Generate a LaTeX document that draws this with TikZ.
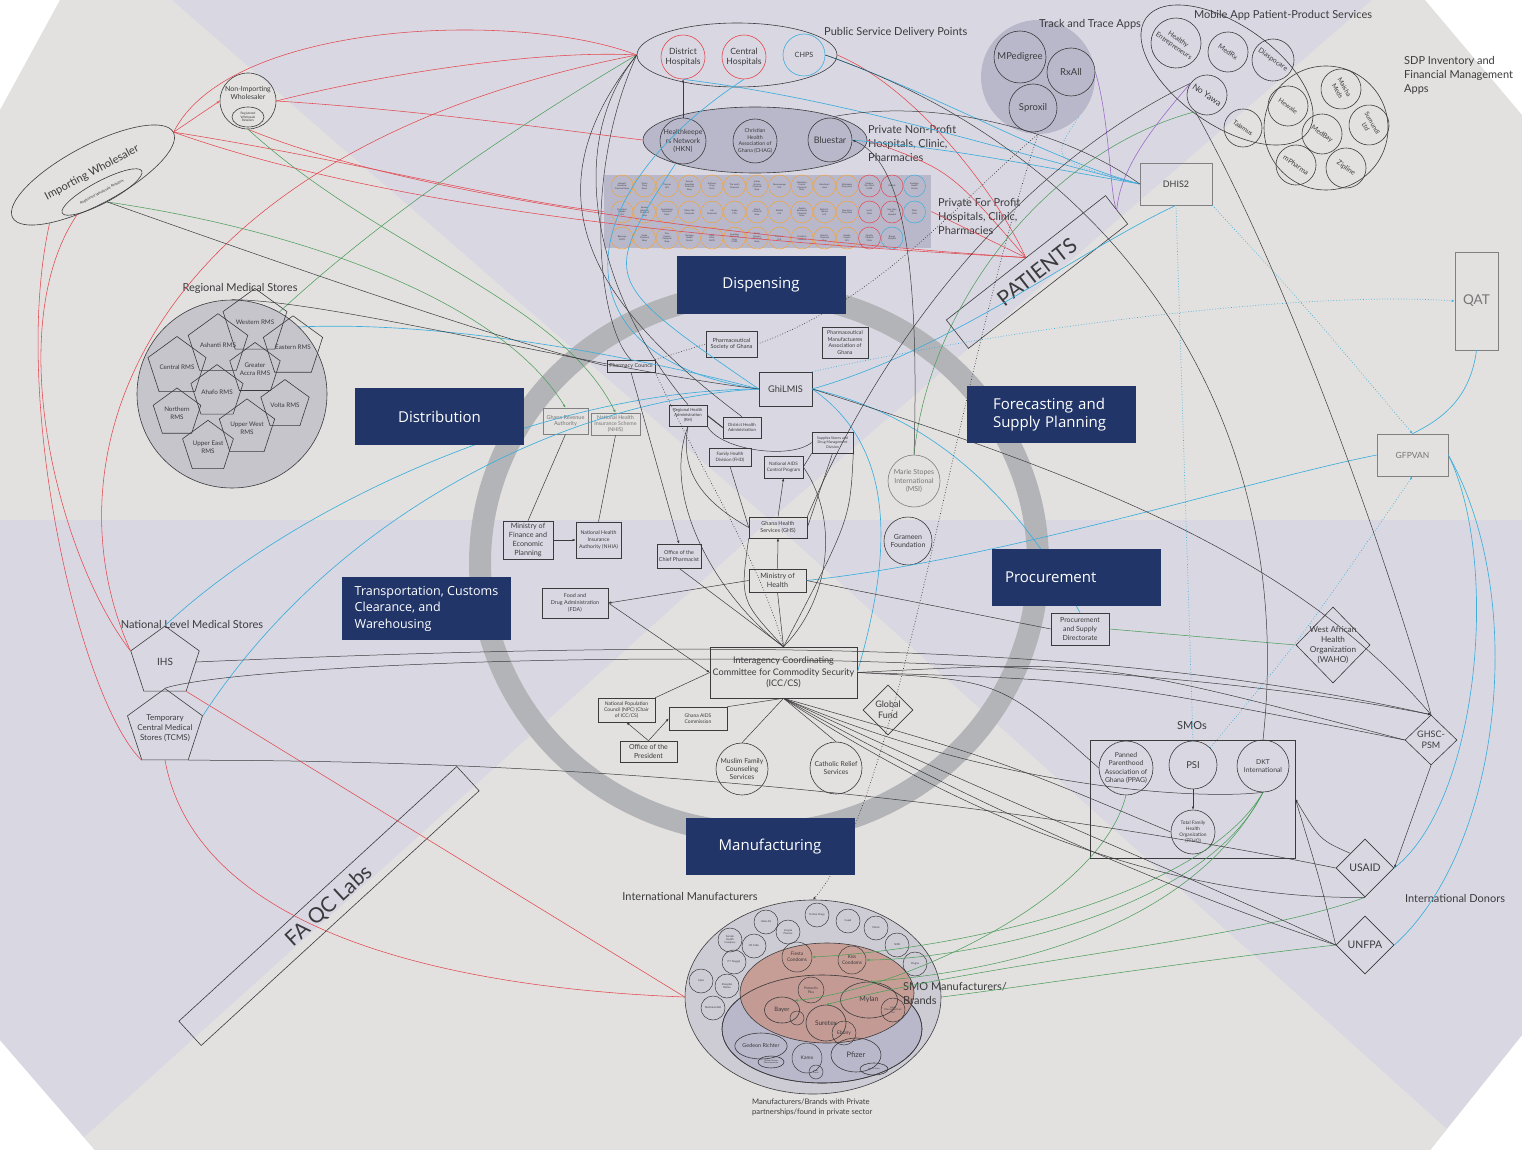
\documentclass[tikz,border=0pt]{standalone}
\usepackage{fontspec}
\setmainfont{Lato}
\newfontfamily\stagefont{Open Sans}
\usetikzlibrary{shapes.geometric}
\usetikzlibrary{positioning}
\usetikzlibrary{arrows.meta}

\definecolor{gh-navy}{HTML}{213569}
\definecolor{gh-paper}{HTML}{E2E1DF}
\definecolor{gh-lilac}{HTML}{D9D8E2}
\definecolor{gh-deep}{HTML}{B9B8CB}
\definecolor{gh-stone}{HTML}{C6C5CB}
\definecolor{gh-cloud}{HTML}{CDCCD4}
\definecolor{gh-ring}{HTML}{B3B4B7}
\definecolor{gh-ink}{HTML}{3B3B3E}
\definecolor{gh-red}{HTML}{E4474F}
\definecolor{gh-blue}{HTML}{3DAEDC}
\definecolor{gh-green}{HTML}{4E9E5C}
\definecolor{gh-violet}{HTML}{9C6BC8}
\definecolor{gh-orange}{HTML}{F0A33B}
\definecolor{gh-salmon}{HTML}{C7978B}
\newcommand{\fsz}[2]{\fontsize{#1}{#2}\selectfont}

\tikzset{
  stage/.style={fill=gh-navy, text=white, inner sep=0pt, minimum width=169pt, minimum height=57pt, font=\stagefont\fsz{15}{18}},
  stageleft/.style={stage, align=left, text width=143pt},
  org/.style={draw=gh-ink, line width=0.6pt, align=center, inner sep=0.5pt, text=gh-ink},
  pale/.style={draw=gh-ink!65, text=gh-ink!70},
  orgc/.style={org, circle, inner sep=0pt},
  orge/.style={org, ellipse, inner sep=0pt},
  pent/.style={org, regular polygon, regular polygon sides=5, inner sep=0pt},
  donor/.style={org, diamond, inner sep=-3pt},
  outlet/.style={orgc, minimum size=22pt, line width=0.5pt, font=\fsz{2.2}{2.5}},
  maker/.style={orgc, minimum size=24pt, line width=0.5pt, font=\fsz{2.6}{3}},
  caption/.style={text=gh-ink, inner sep=0pt, align=left, font=\fsz{11}{14}},
  link/.style={gh-ink, line width=0.5pt},
  redlink/.style={gh-red, line width=0.55pt},
  bluelink/.style={gh-blue, line width=0.65pt},
  greenlink/.style={gh-green, line width=0.55pt},
  violetlink/.style={gh-violet, line width=0.6pt},
  dotlink/.style={gh-ink, line width=0.7pt, dotted},
  bluedot/.style={gh-blue, line width=0.7pt, dotted},
  arrowed/.style={-{Latex[length=3pt,width=2.5pt]}},
}

\begin{document}
\begin{tikzpicture}[x=1pt, y=-1pt]
\useasboundingbox (0,0) rectangle (1522,1150);
% backdrop
\fill[gh-paper] (60,0) -- (1425,0) -- (1522,115) -- (1522,1035) -- (1430,1150) -- (95,1150) -- (0,1040) -- (0,110) -- cycle;
\begin{scope}
  \clip (60,0) -- (1425,0) -- (1522,115) -- (1522,1035) -- (1430,1150) -- (95,1150) -- (0,1040) -- (0,110) -- cycle;
  \fill[gh-lilac] (172,0) -- (1372,0) -- (770,520) -- cycle;
  \fill[gh-lilac] (0,520) rectangle (1522,1150);
  \fill[gh-paper] (770,520) -- (1470,1150) -- (70,1150) -- cycle;
\end{scope}
\draw[gh-ring, line width=22pt] (759,563) ellipse [x radius=279pt, y radius=270pt];

% wholesalers
\node[org, ellipse, rotate=28, minimum width=182pt, minimum height=59pt, inner sep=0pt] (iw) at (93,175) {};
\node[rotate=28, text=gh-ink, font=\fsz{11}{13}] (iwlabel) at (92,173) {Importing Wholesaler};
\node[org, ellipse, rotate=28, minimum width=90pt, minimum height=22pt, inner sep=0pt, font=\fsz{3.6}{4}] (iwr) at (102,192) {Registered Wholesale Retailers};
\node[orgc, minimum size=56pt] (nonimp) at (248,101) {};
\node[text=gh-ink, align=center, inner sep=0pt, font=\fsz{7}{8.4}] (nonimplabel) at (248,93) {Non-Importing\\Wholesaler};
\node[orge, minimum width=32pt, minimum height=20pt, font=\fsz{3.2}{3.6}] (nonimpr) at (248,117) {Registered\\Wholesale\\Retailers};

% regional medical stores
\node[caption] (rmslabel) at (240,288) {Regional Medical Stores};
\node[orge, fill=gh-stone, minimum width=190pt, minimum height=188pt] (rms) at (232,394) {};
\foreach \nm/\px/\py [count=\i] in {Western RMS/255/322, Ashanti RMS/218/345, Eastern RMS/293/347, Central RMS/177/367, Greater\\Accra RMS/255/369, Ahafo RMS/217/392, Volta RMS/285/405, Northern\\RMS/177/413, Upper West\\RMS/247/428, Upper East\\RMS/208/447}
  \node[pent, minimum size=50pt, font=\fsz{6.3}{7.6}] (rms\i) at (\px,\py) {\nm};

% national stores and labs
\node[caption] (nlmslabel) at (192,624) {National Level Medical Stores};
\node[pent, minimum size=72pt, font=\fsz{10}{12}] (ihs) at (165,662) {IHS};
\node[pent, minimum size=74pt, inner sep=-5pt, font=\fsz{8}{10}] (tcms) at (165,728) {Temporary\\Central Medical\\Stores (TCMS)};
\node[org, rotate=42.5, minimum width=377pt, minimum height=33pt, font=\fsz{21}{24}] (qclabs) at (329,906) {FA QC Labs};

% service delivery points
\node[orge, minimum width=200pt, minimum height=64pt] (psdp) at (737,55) {};
\node[caption, anchor=west] (psdplabel) at (824,32) {Public Service Delivery Points};
\node[orgc, draw=gh-red, minimum size=44pt, font=\fsz{8.6}{10.5}] (dh) at (683,57) {District\\Hospitals};
\node[orgc, draw=gh-red, minimum size=44pt, font=\fsz{8.6}{10.5}] (ch) at (744,57) {Central\\Hospitals};
\node[orgc, draw=gh-blue, minimum size=42pt, font=\fsz{7.2}{9}] (chps) at (804,55) {CHPS};
\node[orge, fill=gh-deep, minimum width=224pt, minimum height=66pt] (pnp) at (755,140) {};
\node[orgc, minimum size=46pt, inner sep=-1.5pt, font=\fsz{7}{8.5}] (hkn) at (683,141) {Healthkeepe\\rs Network\\(HKN)};
\node[orgc, minimum size=44pt, inner sep=-2pt, font=\fsz{5.3}{6.6}] (chag) at (755,141) {Christian\\Health\\Association of\\Ghana (CHAG)};
\node[orgc, minimum size=44pt, font=\fsz{9}{11}] (bluestar) at (830,140) {Bluestar};
\node[caption, anchor=north west] (pnplabel) at (868,125) {Private Non-Profit\\Hospitals, Clinic,\\Pharmacies};
\node[org, draw=none, fill=gh-deep, minimum width=327pt, minimum height=73pt] (pfp) at (767.5,211.5) {};
\node[caption, anchor=north west] (pfplabel) at (938,198) {Private For Profit\\Hospitals, Clinic,\\Pharmacies};
\foreach \nm [count=\i from 0] in {Howard\\Amedzies\\Chemical Shop, Vivian\\Drug\\Store, Thomas\\LCS, Zuiman\\Amedzies\\Chemical\\Shop, Anthony\\Drug\\Store, The Lord's\\Chemical, Amika\\Victoria\\Chemical\\Shop, Abenyowoge\\LCS, Bonduma\\Francis\\Chemical\\Store, Abraham's\\store, Mahamma\\Drug store}
  \node[outlet, draw=gh-orange] (pa\i) at ({622+22.5*\i},186) {\nm};
\node[outlet, draw=gh-red] (pa11) at (869.5,186) {Modern\\Gen Clinic\\CHPS};
\node[outlet, draw=gh-red] (pa12) at (892,186) {Afrikids};
\node[outlet, draw=gh-blue] (pa13) at (914.5,186) {Savelugu\\Health\\Centre};
\foreach \nm [count=\i from 0] in {Christiana\\Kekeba\\LCS, Samuel\\Adoguio\\Chemical\\Shop, Anamidemo\\Memorial\\Clinic, Safety Life\\Chemicals, Life\\Chemicals, Sugbo\\CTD, Mosch\\Chemical\\Shop, Buttida\\LCS, Ayesha\\Emmanuel\\Chemical\\Store, Bashir H.\\Yakubu\\LCS, New Kaya\\Drug Shop}
  \node[outlet, draw=gh-orange] (pb\i) at ({622+22.5*\i},212) {\nm};
\node[outlet, draw=gh-red] (pb11) at (869.5,212) {Lord's\\Clinic};
\node[outlet, draw=gh-red] (pb12) at (892,212) {Gan Hear\\Life\\Hospital};
\node[outlet, draw=gh-blue] (pb13) at (914.5,212) {Tolon\\Clinic};
\foreach \nm [count=\i from 0] in {Bakungu\\CHPS, Soska\\Chemical\\Shop, Pius\\Fuseini\\Chemical\\Shop, Pwalugu\\Health\\Centre, Faith\\Clinic\\CHPS, Azambok\\Memorial\\Clinic\\CHPS, Shaibu\\Ramatu\\Chemical\\Shop, Patmaro\\LCS, Gozefam\\Chemical, Bukari's\\Chemical\\Shop, Amadu\\Fuseini\\LCS}
  \node[outlet, draw=gh-orange] (pc\i) at ({622+22.5*\i},238) {\nm};
\node[outlet, draw=gh-red] (pc11) at (869.5,238) {Quality\\Medical\\Clinic};
\node[outlet, draw=gh-blue] (pc12) at (892,238) {Bongo\\Hospital};

% apps
\node[circle, fill=gh-deep, minimum size=114pt] (tta) at (1038,77) {};
\node[caption] (ttalabel) at (1090,24) {Track and Trace Apps};
\node[orgc, minimum size=52pt, font=\fsz{9.5}{11}] (mped) at (1020,57) {MPedigree};
\node[orgc, minimum size=48pt, font=\fsz{9.5}{11}] (rxall) at (1071,72) {RxAll};
\node[orgc, minimum size=48pt, font=\fsz{9.5}{11}] (sproxil) at (1033,108) {Sproxil};
\node[org, ellipse, rotate=-35, minimum width=198pt, minimum height=100pt, inner sep=0pt] (mobile) at (1227,75) {};
\node[caption] (mobilelabel) at (1283,15) {Mobile App Patient-Product Services};
\node[orgc, minimum size=50pt, rotate=-35, font=\fsz{6.8}{8}] (healthy) at (1176,43) {Healthy\\Entrepreneurs};
\node[orgc, minimum size=40pt, rotate=-35, font=\fsz{7}{8}] (medrx) at (1228,52) {MedRx};
\node[orgc, minimum size=42pt, rotate=-35, font=\fsz{7}{8}] (diaspo) at (1273,60) {Diaspocare};
\node[orgc, minimum size=40pt, rotate=-35, font=\fsz{8.5}{10}] (noyawa) at (1207,95) {No Yawa};
\node[orgc, minimum size=38pt, rotate=-35, font=\fsz{6.5}{8}] (talamus) at (1243,128) {Talamus};
\node[orgc, minimum size=124pt] (sdp) at (1326,128) {};
\node[caption, anchor=north west] (sdplabel) at (1404,56) {SDP Inventory and\\Financial Management\\Apps};
\node[orgc, minimum size=40pt, rotate=-35, font=\fsz{6.5}{8}] (hewale) at (1288,106) {Hewale};
\node[orgc, minimum size=40pt, rotate=-60, font=\fsz{6.5}{8}] (maisha) at (1341,89) {Maisha\\Meds};
\node[orgc, minimum size=40pt, rotate=-60, font=\fsz{6.3}{7.6}] (sumundi) at (1369,125) {Sumundi\\Ltd};
\node[orgc, minimum size=40pt, rotate=-35, font=\fsz{6.8}{8}] (medbay) at (1322,134) {MedBay};
\node[orgc, minimum size=40pt, rotate=-35, font=\fsz{7}{8}] (mpharma) at (1296,165) {mPharma};
\node[orgc, minimum size=40pt, rotate=-35, font=\fsz{7}{8}] (zipline) at (1346,168) {Zipline};
\node[org, draw=gh-ink!65, minimum width=72pt, minimum height=42pt, font=\fsz{9}{11}] (dhis2) at (1176,184) {DHIS2};
\node[org, rotate=38, minimum width=202pt, minimum height=36pt, font=\fsz{21}{24}] (patients) at (1037,272) {PATIENTS};
\node[org, pale, minimum width=43pt, minimum height=98pt, font=\fsz{13.5}{16}] (qat) at (1476.5,301) {QAT};
\node[org, pale, minimum width=71pt, minimum height=42pt, font=\fsz{8.5}{10}] (gfpvan) at (1412.5,455) {GFPVAN};

% government bodies
\node[org, minimum width=51pt, minimum height=26pt, font=\fsz{5.6}{6.8}] (psg) at (731.5,344) {Pharmaceutical\\Society of Ghana};
\node[org, minimum width=46pt, minimum height=31pt, font=\fsz{5.3}{6.5}] (pma) at (845,342.5) {Pharmaceutical\\Manufactueres\\Association of\\Ghana};
\node[org, minimum width=48pt, minimum height=12pt, font=\fsz{5.5}{6.5}] (pc) at (631,366) {Pharmacy Council};
\node[org, minimum width=53pt, minimum height=34pt, font=\fsz{9.2}{11}] (ghilmis) at (785.5,389) {GhiLMIS};
\node[org, pale, minimum width=45pt, minimum height=26pt, font=\fsz{5.5}{6.7}] (gra) at (565.5,421) {Ghana Revenue\\Authority};
\node[org, pale, minimum width=49pt, minimum height=22pt, font=\fsz{5.3}{6.3}] (nhis) at (615.5,424) {National Health\\Insurance Scheme\\(NHIS)};
\node[org, minimum width=38pt, minimum height=21pt, font=\fsz{4.2}{5.2}] (rha) at (688,415.5) {Regional Health\\Administration\\(RH)};
\node[org, minimum width=38pt, minimum height=21pt, font=\fsz{4.3}{5.4}] (dha) at (742,427.5) {District Health\\Administration};
\node[org, minimum width=41pt, minimum height=21pt, font=\fsz{3.6}{4.5}] (ssdm) at (832.5,442.5) {Supplies Stores and\\Drug Management\\Division};
\node[org, minimum width=42pt, minimum height=18pt, font=\fsz{4.5}{5.5}] (fhd) at (730,457) {Family Health\\Division (FHD)};
\node[org, minimum width=39pt, minimum height=22pt, font=\fsz{4.6}{5.6}] (nacp) at (783.5,467) {National AIDS\\Control Program};
\node[org, minimum width=50pt, minimum height=38pt, font=\fsz{7.2}{9.2}] (mofep) at (528,540) {Ministry of\\Finance and\\Economic\\Planning};
\node[org, minimum width=45pt, minimum height=36pt, font=\fsz{5.2}{6.6}] (nhia) at (598.5,540) {National Health\\Insurance\\Authority (NHIA)};
\node[org, minimum width=44pt, minimum height=24pt, font=\fsz{5.4}{6.6}] (ocp) at (679,556) {Office of the\\Chief Pharmacist};
\node[org, minimum width=58pt, minimum height=21pt, font=\fsz{5.5}{6.8}] (ghs) at (778,527.5) {Ghana Health\\Services (GHS)};
\node[org, minimum width=57pt, minimum height=23pt, font=\fsz{7.2}{9}] (moh) at (777.5,580.5) {Ministry of\\Health};
\node[org, minimum width=66pt, minimum height=30pt, font=\fsz{5.4}{6.6}] (fda) at (575,603) {Food and\\Drug Administration\\(FDA)};
\node[org, minimum width=147pt, minimum height=51pt, inner sep=0pt, font=\fsz{9.1}{11.6}] (icc) at (783.5,672.5) {Interagency Coordinating\\Committee for Commodity Security\\(ICC/CS)};
\node[org, minimum width=57pt, minimum height=24pt, font=\fsz{5}{6.2}] (npc) at (626.5,710) {National Population\\Council (NPC) (Chair\\of ICC/CS)};
\node[org, minimum width=58pt, minimum height=23pt, font=\fsz{5}{6.2}] (gac) at (698,718.5) {Ghana AIDS\\Commission};
\node[org, minimum width=57pt, minimum height=21pt, font=\fsz{7}{8.6}] (otp) at (648.5,751.5) {Office of the\\President};
\node[orgc, minimum size=52pt, inner sep=-2pt, font=\fsz{6.8}{8.4}] (mfcs) at (742,769) {Muslim Family\\Counseling\\Services};
\node[orgc, minimum size=52pt, inner sep=-2pt, font=\fsz{6.8}{8.4}] (crs) at (836,768) {Catholic Relief\\Services};
\node[donor, minimum width=50pt, minimum height=50pt, font=\fsz{9}{11}] (gf) at (888,710) {Global\\Fund};
\node[orgc, pale, minimum size=52pt, inner sep=-2pt, font=\fsz{7}{8.6}] (msi) at (914,481) {Marie Stopes\\International\\(MSI)};
\node[orgc, minimum size=48pt, inner sep=-1pt, font=\fsz{7}{8.6}] (grameen) at (908,541) {Grameen\\Foundation};
\node[org, minimum width=58pt, minimum height=32pt, font=\fsz{7}{8.6}] (psd) at (1080,629) {Procurement\\and Supply\\Directorate};

% donors
\node[donor, minimum width=74pt, minimum height=76pt, inner sep=-6pt, font=\fsz{8.2}{10}] (waho) at (1333,645) {West African\\Health\\Organization\\(WAHO)};
\node[donor, minimum width=52pt, minimum height=50pt, font=\fsz{9}{11}] (ghsc) at (1431,740) {GHSC-\\PSM};
\node[donor, minimum width=58pt, minimum height=58pt, font=\fsz{10.5}{12}] (usaid) at (1365,868) {USAID};
\node[donor, minimum width=58pt, minimum height=58pt, font=\fsz{10.5}{12}] (unfpa) at (1365,945) {UNFPA};
\node[caption] (donorslabel) at (1455,898) {International Donors};

% social marketing organisations
\node[caption] (smolabel) at (1192,726) {SMOs};
\node[org, minimum width=205pt, minimum height=118pt] (smo) at (1192.5,799) {};
\node[orgc, minimum size=54pt, inner sep=-4pt, font=\fsz{6.8}{8.6}] (ppag) at (1126,768) {Panned\\Parenthood\\Association of\\Ghana (PPAG)};
\node[orgc, minimum size=48pt, font=\fsz{9.5}{11}] (psi) at (1193,765) {PSI};
\node[orgc, minimum size=52pt, inner sep=-1pt, font=\fsz{6.8}{8.2}] (dkt) at (1263,766) {DKT\\International};
\node[orgc, minimum size=44pt, inner sep=-1pt, font=\fsz{4.8}{6}] (tfho) at (1193,832) {Total Family\\Health\\Organization\\(TFHO)};

% manufacturers
\node[caption] (imlabel) at (690,896) {International Manufacturers};
\node[orge, fill=gh-cloud, minimum width=256pt, minimum height=194pt] (im) at (813,997) {};
\node[orge, fill=gh-deep, minimum width=200pt, minimum height=108pt] (imprivate) at (822,1029) {};
\node[orge, fill=gh-salmon, fill opacity=0.85, minimum width=174pt, minimum height=100pt] (imsmo) at (827,993) {};
\draw[gh-ink, line width=0.6pt] (imprivate.center) ellipse [x radius=100pt, y radius=54pt];
\node[caption, anchor=west] (imsmolabel) at (903,993) {SMO Manufacturers/\\Brands};
\node[caption, anchor=north west, font=\fsz{7.6}{10}] (impvtlabel) at (752,1099) {Manufacturers/Brands with Private\\partnerships/found in private sector};
\node[maker] (techno) at (817,915) {Techno Drugs};
\node[maker] (cupid) at (848,921) {Cupid};
\node[maker] (merck) at (876,928) {Merck};
\node[maker] (helm) at (766,922) {Helm AG};
\node[maker] (incepta) at (788,932) {Incepta\\Pharma};
\node[maker] (fhc) at (730,940) {Female\\Health\\Company};
\node[maker] (cr) at (754,946) {CR Cattu};
\node[maker] (tunggal) at (734,962) {PT Tunggal};
\node[maker] (cipla) at (701,981) {Cipla};
\node[maker] (dahua) at (727,986) {Shanghai\\Dahua};
\node[maker] (m360) at (713,1008) {Medicines360};
\node[maker] (smb) at (897,945) {SMB};
\node[maker] (pregna) at (915,964) {Pregna};
\node[maker, minimum size=30pt, font=\fsz{4.8}{5.8}] (fiesta) at (797,957) {Fiesta\\Condoms};
\node[maker, minimum size=28pt, font=\fsz{4.8}{5.8}] (kiss) at (852,960) {Kiss\\Condoms};
\node[maker, minimum size=26pt, font=\fsz{3.4}{4.2}] (protectiv) at (811,990) {Protectiv\\Plus};
\node[orge, minimum width=57pt, minimum height=36pt, font=\fsz{7}{8}] (mylan) at (869,1000) {Mylan};
\node[maker, minimum size=24pt, font=\fsz{2.4}{2.8}] (lupin) at (893,1010) {Lupin\\Pharmaceuticals\\Ltd};
\node[orge, minimum width=35pt, minimum height=26pt, font=\fsz{6}{7}] (bayer) at (782,1010) {Bayer};
\node[maker, minimum size=14pt] (bayermini) at (797,1018) {};
\node[orge, minimum width=40pt, minimum height=36pt, font=\fsz{6.6}{8}] (suretex) at (826,1023) {Suretex};
\node[maker, minimum size=24pt, font=\fsz{5}{6}] (ebony) at (844,1033) {Ebony};
\node[orge, minimum width=44pt, minimum height=26pt, font=\fsz{5.4}{6.5}] (gedeon) at (761,1046) {Gedeon Richter};
\node[orge, minimum width=26pt, minimum height=12pt, font=\fsz{2}{2.4}] (gedeonmini) at (771,1062) {Gedeon Richter\\Pharmaceuticals};
\node[maker, minimum size=30pt, font=\fsz{5}{6}] (karex) at (807,1058) {Karex};
\node[maker, minimum size=14pt, font=\fsz{1.8}{2.2}] (karexmini) at (816,1072) {Karex\\Brands};
\node[orge, minimum width=50pt, minimum height=34pt, font=\fsz{7.5}{9}] (pfizer) at (856,1055) {Pfizer};
\node[orge, minimum width=28pt, minimum height=12pt, font=\fsz{2}{2.4}] (pfizermini) at (874,1069) {Sayana Press};

% red flows
\draw[redlink] (iw.east) .. controls (230,20) and (520,10) .. (psdp.west);
\draw[redlink, arrowed] (iw.east) -- (nonimp.west);
\draw[redlink] (iw.east) .. controls (350,160) and (500,200) .. (pfp.west);
\draw[redlink] (iw.east) .. controls (420,220) and (800,245) .. (patients.north);
\draw[redlink] (nonimp.east) .. controls (400,70) and (550,50) .. (psdp.west);
\draw[redlink] (nonimp.east) .. controls (420,110) and (560,130) .. (pnp.west);
\draw[redlink] (nonimp.south) .. controls (420,200) and (760,240) .. (patients.north);
\draw[redlink] (psdp.east) .. controls (920,90) and (1000,200) .. (patients.north);
\draw[redlink] (pnp.east) .. controls (950,170) .. (patients.north);
\draw[redlink] (pfp.east) -- (patients.north);
\draw[redlink] (iw.220) .. controls (0,330) and (60,560) .. (ihs.corner 2);
\draw[redlink] (ihs.corner 2) .. controls (40,450) and (150,150) .. (psdp.west);
\draw[redlink] (iw.200) .. controls (10,400) and (80,700) .. (tcms.corner 3);
\draw[redlink] (ihs.corner 4) -- (im.west);
\draw[redlink] (tcms.south) .. controls (200,950) and (500,990) .. (im.west);

% blue flows
\draw[bluelink] (ihs.corner 1) .. controls (300,500) and (550,390) .. (ghilmis.west);
\draw[bluelink] (tcms.corner 5) .. controls (330,520) and (560,400) .. (ghilmis.west);
\draw[bluelink] (rms.45) .. controls (450,320) and (650,360) .. (ghilmis.west);
\draw[bluelink] (ch.south) .. controls (560,200) and (560,360) .. (ghilmis.west);
\draw[bluelink] (pnp.south west) .. controls (600,280) .. (ghilmis.west);
\draw[bluelink] (dh.south) .. controls (850,100) and (1000,150) .. (dhis2.west);
\draw[bluelink] (chps.east) .. controls (950,100) and (1050,160) .. (dhis2.west);
\draw[bluelink] (bluestar.east) .. controls (950,150) .. (dhis2.west);
\draw[bluelink] (ghilmis.east) .. controls (950,350) and (1080,250) .. (dhis2.south);
\draw[bluelink] (ghilmis.east) .. controls (950,420) and (1030,520) .. (psd.north);
\draw[bluelink] (icc.east) .. controls (890,560) and (900,450) .. (ghilmis.east);
\draw[bluelink] (moh.east) .. controls (1000,560) and (1250,480) .. (gfpvan.west);
\draw[bluelink] (gfpvan.east) .. controls (1500,560) and (1480,800) .. (usaid.east);
\draw[bluelink] (gfpvan.east) .. controls (1530,600) and (1500,850) .. (unfpa.east);
\draw[bluelink] (qat.south) .. controls (1470,400) and (1440,420) .. (gfpvan.north);
\draw[bluedot, arrowed] (ghilmis.north east) .. controls (1000,330) and (1300,290) .. (qat.west);
\draw[bluedot, arrowed] (dhis2.south east) .. controls (1300,300) .. (gfpvan.north);
\draw[bluedot, arrowed] (psi.north east) .. controls (1300,640) .. (gfpvan.south);
\draw[bluedot] (dhis2.south) -- (psi.north);
\draw[bluedot] (tta.south east) .. controls (1050,160) .. (dhis2.west);

% green flows
\draw[greenlink, arrowed] (iwr.south) .. controls (300,230) and (500,300) .. (gra.north);
\draw[greenlink, arrowed] (nonimp.south) .. controls (380,250) and (560,300) .. (nhis.north);
\draw[greenlink] (rms.60) .. controls (400,200) and (560,100) .. (psdp.west);
\draw[greenlink] (noyawa.south) .. controls (1050,150) and (930,300) .. (msi.north);
\draw[greenlink] (psd.east) -- (waho.west);
\draw[greenlink, arrowed] (dkt.south) .. controls (1200,900) and (950,950) .. (fiesta.east);
\draw[greenlink, arrowed] (dkt.south) .. controls (1200,920) and (950,960) .. (kiss.east);
\draw[greenlink, arrowed] (dkt.south) .. controls (1180,950) and (950,975) .. (mylan.north);
\draw[greenlink, arrowed] (ppag.south) .. controls (1100,900) and (900,990) .. (bayer.north east);
\draw[greenlink, arrowed] (usaid.south) .. controls (1250,940) and (1000,960) .. (suretex.north);
\draw[greenlink] (unfpa.west) .. controls (1200,960) and (1000,990) .. (im.east);

% violet flows
\draw[violetlink] (rxall.east) .. controls (1110,120) and (1110,200) .. (patients.east);
\draw[violetlink] (noyawa.west) .. controls (1150,130) and (1120,170) .. (patients.east);

% black flows
\draw[link, arrowed] (hkn.north) -- (dh.south);
\draw[link] (iwr.south) .. controls (300,270) and (500,340) .. (pc.west);
\draw[link] (rms.north) .. controls (330,300) and (600,370) .. (ghilmis.west);
\draw[link] (psdp.west) .. controls (560,150) and (600,300) .. (rha.north);
\draw[link] (psdp.west) .. controls (520,200) and (600,310) .. (dha.north);
\draw[link] (psdp.west) .. controls (580,180) and (600,330) .. (pc.north);
\draw[link, arrowed] (pc.south) -- (ocp.north);
\draw[link, line width=1pt] (rha.east) -- (dha.west);
\draw[link] (rha.south) .. controls (680,470) and (700,500) .. (ghs.west);
\draw[link] (rha.south) .. controls (660,500) and (720,600) .. (icc.north);
\draw[link] (rha.south east) .. controls (720,450) and (790,460) .. (ssdm.west);
\draw[link] (fhd.south) -- (ghs.west);
\draw[link, arrowed] (ghs.north) -- (nacp.south);
\draw[link] (nacp.east) -- (ssdm.south west);
\draw[link] (ssdm.south) -- (ghs.east);
\draw[link] (ssdm.south east) .. controls (850,520) .. (icc.north);
\draw[link] (nacp.east) .. controls (840,520) and (830,600) .. (icc.north);
\draw[link, arrowed] (moh.north) -- (ghs.south);
\draw[link] (moh.south) -- (icc.north);
\draw[link] (ghs.south west) .. controls (740,600) .. (icc.north);
\draw[link, arrowed] (mofep.east) -- (nhia.west);
\draw[link] (mofep.north) -- (gra.south);
\draw[link] (nhia.north) -- (nhis.south);
\draw[link] (ocp.south) -- (icc.north);
\draw[link, arrowed] (moh.west) -- (fda.east);
\draw[link, arrowed] (fda.east) -- (icc.west);
\draw[link] (npc.north east) -- (icc.west);
\draw[link, arrowed] (otp.north) -- (npc.south);
\draw[link, arrowed] (otp.north) -- (gac.west);
\draw[link] (gac.north east) -- (icc.south);
\draw[link] (icc.south) -- (mfcs.north);
\draw[link] (icc.south) -- (crs.north);
\draw[link] (icc.south) .. controls (1000,760) .. (tfho.west);
\draw[link] (icc.south) .. controls (1000,790) and (1200,800) .. (dkt.south);
\draw[link] (icc.south) .. controls (1000,800) and (1200,880) .. (unfpa.west);
\draw[link] (icc.south) .. controls (1000,820) and (1200,900) .. (unfpa.west);
\draw[link] (icc.south) .. controls (1000,840) and (1200,900) .. (usaid.south);
\draw[link] (icc.east) .. controls (1000,680) .. (ppag.west);
\draw[link] (icc.east) .. controls (1100,660) .. (ghsc.west);
\draw[link] (icc.east) .. controls (1100,680) .. (ghsc.west);
\draw[link, arrowed] (ihs.east) .. controls (700,640) and (1100,640) .. (ghsc.north);
\draw[link, arrowed] (tcms.corner 1) .. controls (250,660) and (1000,630) .. (ghsc.north);
\draw[link] (tcms.corner 4) .. controls (600,760) and (1000,800) .. (usaid.west);
\draw[link] (moh.east) -- (psd.west);
\draw[link] (ghilmis.east) .. controls (1100,480) and (1300,560) .. (ghsc.north);
\draw[link] (noyawa.south) .. controls (1300,300) and (1400,600) .. (ghsc.north);
\draw[link] (chps.east) .. controls (1100,150) and (1300,400) .. (dkt.north);
\draw[link, arrowed] (ghsc.south) -- (usaid.east);
\draw[link, arrowed] (usaid.north west) .. controls (1320,840) .. (smo.east);
\draw[link, arrowed] (unfpa.west) .. controls (1320,880) .. (smo.east);
\draw[link, arrowed] (psi.south) -- (tfho.north);
\draw[link] (pnp.north east) .. controls (950,95) and (1080,140) .. (dhis2.west);
\draw[link, arrowed] (msi.north) .. controls (920,250) and (900,160) .. (bluestar.east);
\draw[link] (ghs.north east) .. controls (900,300) and (1050,150) .. (noyawa.west);
\draw[dotlink] (pc.north east) -- (psg.west);
\draw[dotlink] (psg.east) .. controls (880,300) and (960,200) .. (tta.south);
\draw[dotlink] (pc.south east) .. controls (700,470) and (760,560) .. (icc.north);
\draw[dotlink, arrowed] (tta.south) .. controls (950,400) and (900,800) .. (im.north);

% stages
\node[stage] (dispensing) at (761,285) {Dispensing};
\node[stage] (distribution) at (439.5,416.5) {Distribution};
\node[stageleft, text width=117pt] (forecasting) at (1051.5,414.5) {Forecasting and\\Supply Planning};
\node[stageleft] (procurement) at (1076.5,577.5) {Procurement};
\node[stage, align=left, minimum height=63pt, font=\stagefont\fsz{12.5}{16.5}] (transport) at (426.5,608.5) {Transportation, Customs\\Clearance, and\\Warehousing};
\node[stage] (manufacturing) at (770,846.5) {Manufacturing};
\end{tikzpicture}
\end{document}
